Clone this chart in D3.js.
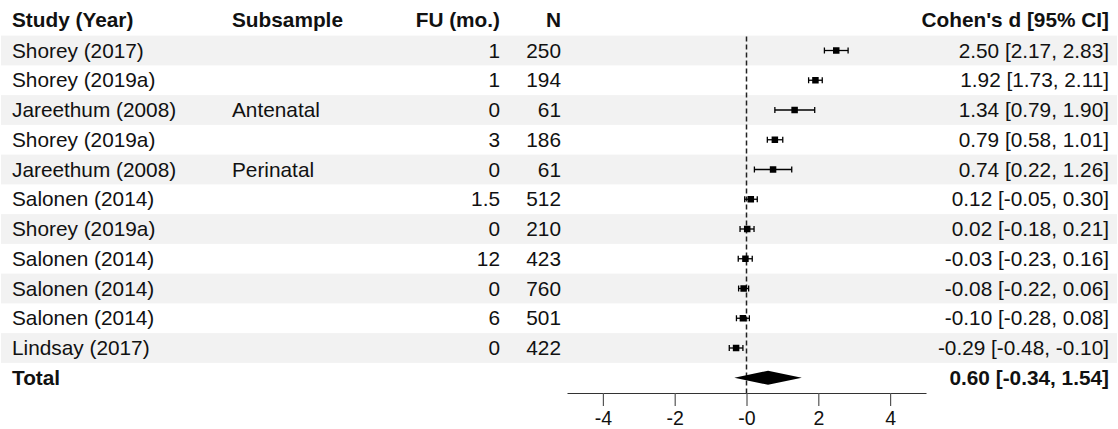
<!DOCTYPE html>
<html>
<head>
<meta charset="utf-8">
<script src="https://cdn.jsdelivr.net/npm/d3@7"></script>
<style>
  body { margin: 0; background: #fff; }
  text { font-family: "Liberation Sans", Arial, sans-serif; fill: #111; }
</style>
</head>
<body>
<div id="forest"></div>
<script>
// table data
var studies = ["Shorey (2017)", "Shorey (2019a)", "Jareethum (2008)", "Shorey (2019a)", "Jareethum (2008)",
    "Salonen (2014)", "Shorey (2019a)", "Salonen (2014)", "Salonen (2014)", "Salonen (2014)", "Lindsay (2017)"];
var subsamples = ["", "", "Antenatal", "", "Perinatal", "", "", "", "", "", ""];
var followUp = ["1", "1", "0", "3", "0", "1.5", "0", "12", "0", "6", "0"];
var sampleN = [250, 194, 61, 186, 61, 512, 210, 423, 760, 501, 422];
var effect = [2.50, 1.92, 1.34, 0.79, 0.74, 0.12, 0.02, -0.03, -0.08, -0.10, -0.29];
var ciLow = [2.17, 1.73, 0.79, 0.58, 0.22, -0.05, -0.18, -0.23, -0.22, -0.28, -0.48];
var ciHigh = [2.83, 2.11, 1.90, 1.01, 1.26, 0.30, 0.21, 0.16, 0.06, 0.08, -0.10];
var totalLabel = "Total";
var totalEffect = 0.60, totalLow = -0.34, totalHigh = 1.54;
var headers = ["Study (Year)", "Subsample", "FU (mo.)", "N", "Cohen's d [95% CI]"];
var tickValues = [-4, -2, 0, 2, 4];
var tickLabels = ["-4", "-2", "-0", "2", "4"];

var W = 1118, H = 429;
var fontSize = 20.8;
var rowH = 29.75, firstRow = 50.5;

var svg = d3.select("#forest").append("svg")
    .attr("width", W)
    .attr("height", H);

var x = d3.scaleLinear().domain([-5, 5]).range([567, 926]);
var rowY = function (i) { return firstRow + i * rowH; };
// plain hyphen for negatives, like the original table
var fmt = function (v) { return v.toFixed(2); };
var ciText = function (d, l, h) { return fmt(d) + " [" + fmt(l) + ", " + fmt(h) + "]"; };

var rows = studies.map(function (s, i) {
    return { study: s, sub: subsamples[i], fu: followUp[i], n: sampleN[i],
        d: effect[i], lo: ciLow[i], hi: ciHigh[i] };
});

// alternating grey bands
svg.selectAll(".band")
    .data(rows.filter(function (d, i) { return i % 2 == 0; }))
    .enter().append("rect")
    .attr("class", "band")
    .attr("x", 1)
    .attr("width", W - 2)
    .attr("y", function (d) { return rowY(rows.indexOf(d)) - rowH / 2; })
    .attr("height", rowH)
    .style("fill", "#f2f2f2");

// header
var colX = [12, 232, 500, 561, 1109];
var colAnchor = ["start", "start", "end", "end", "end"];
svg.selectAll(".hdr")
    .data(headers)
    .enter().append("text")
    .attr("class", "hdr")
    .attr("x", function (d, i) { return colX[i]; })
    .attr("y", 27)
    .style("text-anchor", function (d, i) { return colAnchor[i]; })
    .style("font-weight", "bold")
    .style("font-size", fontSize + "px")
    .text(function (d) { return d; });

// table rows
var rowG = svg.selectAll(".row")
    .data(rows)
    .enter().append("g")
    .attr("class", "row")
    .attr("transform", function (d, i) { return "translate(0," + (rowY(i) + 7) + ")"; });

var cols = [
    function (d) { return d.study; },
    function (d) { return d.sub; },
    function (d) { return d.fu; },
    function (d) { return d.n; },
    function (d) { return ciText(d.d, d.lo, d.hi); }
];
cols.forEach(function (fn, c) {
    rowG.append("text")
        .attr("x", colX[c])
        .style("text-anchor", colAnchor[c])
        .style("font-size", fontSize + "px")
        .text(fn);
});

// total row
var totY = rowY(rows.length);
svg.append("text")
    .attr("x", colX[0]).attr("y", totY + 7)
    .style("font-weight", "bold").style("font-size", fontSize + "px")
    .text(totalLabel);
svg.append("text")
    .attr("x", colX[4]).attr("y", totY + 7)
    .style("text-anchor", "end")
    .style("font-weight", "bold").style("font-size", fontSize + "px")
    .text(ciText(totalEffect, totalLow, totalHigh));

// axis
var axisY = 393;
var axis = svg.append("g")
    .attr("transform", "translate(0," + axisY + ")")
    .call(d3.axisBottom(x)
        .tickValues(tickValues)
        .tickFormat(function (d, i) { return tickLabels[i]; })
        .tickSize(13)
        .tickSizeOuter(0)
        .tickPadding(5));
axis.select(".domain").attr("stroke", "#333").attr("stroke-width", 1.2);
axis.selectAll(".tick line").attr("stroke", "#555").attr("stroke-width", 1.2);
axis.selectAll(".tick text")
    .style("font-size", "19.5px")
    .style("font-family", "'Liberation Sans', Arial, sans-serif")
    .attr("fill", "#111");

// reference line at zero
svg.append("line")
    .attr("x1", x(0)).attr("x2", x(0))
    .attr("y1", rowY(0) - 14).attr("y2", axisY)
    .attr("stroke", "#222")
    .attr("stroke-width", 1.5)
    .attr("stroke-dasharray", "5,3");

// CI whiskers
var ci = svg.selectAll(".ci")
    .data(rows)
    .enter().append("g")
    .attr("class", "ci")
    .attr("transform", function (d, i) { return "translate(0," + rowY(i) + ")"; });
ci.append("line")
    .attr("x1", function (d) { return x(d.lo); })
    .attr("x2", function (d) { return x(d.hi); })
    .attr("stroke", "#000").attr("stroke-width", 1.3);
ci.append("line")
    .attr("x1", function (d) { return x(d.lo); })
    .attr("x2", function (d) { return x(d.lo); })
    .attr("y1", -3).attr("y2", 3)
    .attr("stroke", "#000").attr("stroke-width", 1.3);
ci.append("line")
    .attr("x1", function (d) { return x(d.hi); })
    .attr("x2", function (d) { return x(d.hi); })
    .attr("y1", -3).attr("y2", 3)
    .attr("stroke", "#000").attr("stroke-width", 1.3);
ci.append("rect")
    .attr("x", function (d) { return x(d.d) - 3.25; })
    .attr("y", -3.25)
    .attr("width", 6.5).attr("height", 6.5)
    .style("fill", "#000");

// summary diamond
svg.append("polygon")
    .attr("points", [
        [x(totalLow), totY], [x(totalEffect), totY - 7],
        [x(totalHigh), totY], [x(totalEffect), totY + 7]
    ].map(function (p) { return p.join(","); }).join(" "))
    .style("fill", "#000");
</script>
</body>
</html>
